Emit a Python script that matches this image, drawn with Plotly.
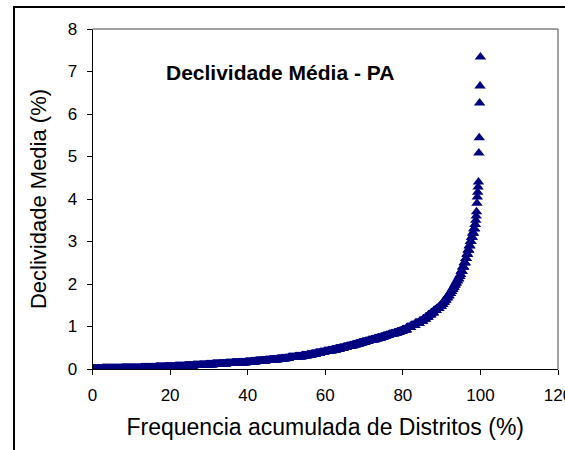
import numpy as np
import plotly.graph_objects as go

# Slope classes (%) and number of districts in each class, state of Pará
declividade = [
    0.00, 0.01, 0.02, 0.03, 0.04, 0.05, 0.06, 0.07, 0.08, 0.09,
    0.10, 0.11, 0.12, 0.13, 0.14, 0.15, 0.16, 0.17, 0.18, 0.19,
    0.20, 0.21, 0.22, 0.23, 0.24, 0.25,
    0.27, 0.29, 0.31, 0.33, 0.35, 0.37, 0.39, 0.41, 0.43, 0.45,
    0.47, 0.49, 0.51, 0.53, 0.55, 0.57, 0.59, 0.61, 0.63, 0.65,
    0.67, 0.69, 0.71, 0.73, 0.75, 0.77, 0.79, 0.81, 0.83, 0.85,
    0.87, 0.89,
    0.925, 0.975, 1.025, 1.075, 1.125, 1.175, 1.225, 1.275, 1.325, 1.375,
    1.425, 1.475, 1.525, 1.575, 1.625, 1.675, 1.725, 1.775, 1.825, 1.875,
    1.925, 1.975, 2.025, 2.075, 2.125, 2.175, 2.225,
    2.30, 2.40, 2.50, 2.60, 2.70, 2.80, 2.90, 3.00, 3.10, 3.20,
    3.30, 3.40, 3.50, 3.60, 3.70,
    3.90, 4.05, 4.16, 4.28, 4.40, 5.08, 5.44, 6.26, 6.66, 7.34,
]
n_distritos = [
    25, 50, 50, 38, 25, 25, 25, 21, 17, 17,
    17, 17, 17, 17, 17, 17, 14, 12, 12, 13,
    11, 10, 10, 10, 10, 9,
    17, 17, 14, 11, 11, 11, 11, 10, 10, 10,
    10, 10, 8, 8, 8, 8, 8, 8, 8, 8,
    8, 8, 8, 8, 7, 7, 7, 7, 7, 7,
    7, 7,
    11, 11, 11, 11, 9, 7, 7, 7, 7, 7,
    7, 6, 4, 4, 4, 4, 4, 4, 3, 3,
    3, 3, 3, 3, 3, 3, 2,
    4, 4, 4, 3, 3, 3, 3, 3, 3, 3,
    3, 2, 1, 1, 1,
    1, 1, 1, 1, 1, 1, 1, 1, 1, 1,
]

x_ticks = [0, 20, 40, 60, 80, 100, 120]
y_ticks = [0, 1, 2, 3, 4, 5, 6, 7, 8]

titulo = "Declividade Média - PA"
titulo_x = "Frequencia acumulada de Distritos (%)"
titulo_y = "Declividade Media (%)"

# Sorted district values and their cumulative frequency
valores = np.sort(np.repeat(np.array(declividade), np.array(n_distritos)))
n = len(valores)
freq_acum = np.arange(1, n + 1) / n * 100.0

FONT = "Liberation Sans, Arial, sans-serif"
AZUL = "#000080"
W, H = 565, 450

# outer chart frame: left edge and top edge, in figure pixels
FRAME_LEFT, FRAME_TOP = 14, 7

def px_x(px):
    return px / W

def px_y(py):
    return (H - py) / H

# plot area in pixels: x 92.5..558, y 29..369
fig = go.Figure()
fig.add_trace(go.Scatter(
    x=freq_acum, y=valores, mode="markers",
    marker=dict(symbol="triangle-up", size=10, color=AZUL,
                line=dict(width=0, color=AZUL)),
    showlegend=False, hoverinfo="skip",
))

# frame drawn on a hidden pixel-space subplot covering the whole figure
fig.add_trace(go.Scatter(
    x=[FRAME_LEFT, FRAME_LEFT, W], y=[H, FRAME_TOP, FRAME_TOP],
    xaxis="x2", yaxis="y2", mode="lines", cliponaxis=False,
    line=dict(color="black", width=2),
    showlegend=False, hoverinfo="skip",
))

fig.update_layout(
    width=W, height=H,
    margin=dict(l=0, r=0, t=0, b=0, pad=0),
    paper_bgcolor="white", plot_bgcolor="rgba(0,0,0,0)",
    font=dict(family=FONT, size=15, color="black"),
    xaxis=dict(
        domain=[px_x(92.5), px_x(558)], automargin=False,
        range=[0, 120], tickvals=x_ticks, ticks="outside", ticklen=5,
        tickcolor="black", tickwidth=1, showline=True, linecolor="black",
        linewidth=1, showgrid=False, zeroline=False,
        tickfont=dict(family=FONT, size=17), ticklabelstandoff=6,
        ticklabeloverflow="allow",
        title=dict(text=titulo_x, font=dict(family=FONT, size=23), standoff=14),
    ),
    yaxis=dict(
        domain=[px_y(369), px_y(29)], automargin=False,
        range=[0, 8], tickvals=y_ticks, ticks="outside", ticklen=5,
        tickcolor="black", tickwidth=1, showline=True, linecolor="black",
        linewidth=1, showgrid=False, zeroline=False,
        tickfont=dict(family=FONT, size=17), ticklabelstandoff=6,
        title=dict(text=titulo_y, font=dict(family=FONT, size=22), standoff=14),
    ),
    xaxis2=dict(domain=[0, 1], range=[0, W], visible=False, anchor="y2",
                automargin=False, fixedrange=True),
    yaxis2=dict(domain=[0, 1], range=[H, 0], visible=False, anchor="x2",
                automargin=False, fixedrange=True),
    shapes=[
        # top and right edges of the plot area
        dict(type="line", xref="x domain", yref="y domain", x0=0, x1=1, y0=1, y1=1,
             line=dict(color="#808080", width=1.5)),
        dict(type="line", xref="x domain", yref="y domain", x0=1, x1=1, y0=0, y1=1,
             line=dict(color="#808080", width=1.5)),
    ],
    annotations=[
        dict(text="<b>" + titulo + "</b>", xref="paper", yref="paper",
             x=px_x(280), y=px_y(72), showarrow=False,
             xanchor="center", yanchor="middle",
             font=dict(family=FONT, size=21, color="black")),
    ],
)

fig.write_html("out.html", config={"staticPlot": True, "displayModeBar": False})
